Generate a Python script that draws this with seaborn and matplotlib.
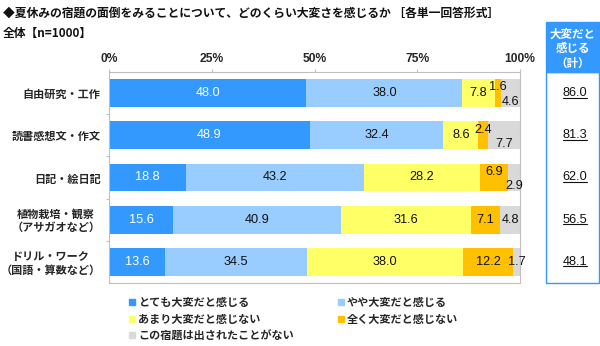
import numpy as np
import pandas as pd
import matplotlib
matplotlib.use("Agg")
import matplotlib.pyplot as plt
import matplotlib.transforms as mtransforms
from matplotlib.lines import Line2D
from matplotlib.patches import Rectangle
from matplotlib.font_manager import FontProperties
import seaborn as sns

# ---- data -------------------------------------------------------------
categories = [
    "自由研究・工作",
    "読書感想文・作文",
    "日記・絵日記",
    "植物栽培・観察\n（アサガオなど）",
    "ドリル・ワーク\n（国語・算数など）",
]
series_names = [
    "とても大変だと感じる",
    "やや大変だと感じる",
    "あまり大変だと感じない",
    "全く大変だと感じない",
    "この宿題は出されたことがない",
]
very_hard = [48.0, 48.9, 18.8, 15.6, 13.6]
somewhat_hard = [38.0, 32.4, 43.2, 40.9, 34.5]
not_very_hard = [7.8, 8.6, 28.2, 31.6, 38.0]
not_hard_at_all = [1.6, 2.4, 6.9, 7.1, 12.2]
never_assigned = [4.6, 7.7, 2.9, 4.8, 1.7]

x_ticks = [0, 25, 50, 75, 100]
x_tick_labels = ["0%", "25%", "50%", "75%", "100%"]

title = "◆夏休みの宿題の面倒をみることについて、どのくらい大変さを感じるか ［各単一回答形式］"
subtitle = "全体【n=1000】"
total_header = "大変だと\n感じる\n（計）"

# ---- styling ----------------------------------------------------------
colors = ["#3399FF", "#99CCFF", "#FFFF66", "#FFC000", "#D9D9D9"]
text_colors = ["white", "#111111", "#111111", "#111111", "#111111"]
axis_grey = "#BFBFBF"
jp = ["Noto Sans CJK JP", "DejaVu Sans"]
num_font = ["Liberation Sans", "Noto Sans CJK JP"]

# small segments whose labels are nudged up / down (in points)
label_nudge = {(0, 3): 4.5, (0, 4): -6.5,
               (1, 3): 4.0, (1, 4): -6.0,
               (2, 3): 4.0, (2, 4): -6.0}

sns.set_theme(style="white")
plt.rcParams["font.family"] = jp

series = [very_hard, somewhat_hard, not_very_hard, not_hard_at_all, never_assigned]
values = np.array(series).T              # rows = categories, cols = series
cumulative = np.cumsum(values, axis=1)

fig = plt.figure(figsize=(6.0, 3.46), dpi=100)
ax = fig.add_axes([109 / 600, 1 - 283 / 346, 411 / 600, 211 / 346])

# stacked bars: draw cumulative totals from the outermost segment inwards
for j in reversed(range(len(series))):
    df = pd.DataFrame({"category": categories, "value": cumulative[:, j]})
    sns.barplot(data=df, x="value", y="category", orient="h", color=colors[j],
                saturation=1, width=0.66, linewidth=0, ax=ax)

ax.set_xlim(0, 100)
ax.set_ylim(len(categories) - 0.5, -0.5)
ax.set_xlabel("")
ax.set_ylabel("")

# segment value labels
for i in range(len(categories)):
    for j in range(len(series)):
        v = values[i, j]
        xc = cumulative[i, j] - v / 2
        dy = label_nudge.get((i, j), 0.0)
        ax.annotate(f"{v:.1f}", xy=(xc, i), xytext=(0, dy), textcoords="offset points",
                    ha="center", va="center", fontsize=9.2, family=num_font,
                    color=text_colors[j])

# x axis on top
ax.set_xticks(x_ticks)
ax.set_xticklabels(x_tick_labels, family=num_font, fontweight="bold", fontsize=8.7)
ax.tick_params(axis="x", top=True, bottom=False, labeltop=True, labelbottom=False,
               length=2.5, width=0.8, color=axis_grey, pad=2.5, direction="out")

# y axis: category labels, small ticks between rows
ax.set_yticks(range(len(categories)))
ax.set_yticklabels(categories)
for lbl in ax.get_yticklabels():
    lbl.set_fontproperties(FontProperties(family=jp, weight="bold", size=8.0))
    lbl.set_multialignment("center")
    lbl.set_linespacing(1.0)
ax.tick_params(axis="y", which="major", length=0, pad=6)
ax.set_yticks(np.arange(0.5, len(categories) - 1, 1.0), minor=True)
ax.tick_params(axis="y", which="minor", left=True, length=2.5, width=0.8,
               color=axis_grey, direction="out")

for side in ["left", "right", "top", "bottom"]:
    ax.spines[side].set_visible(True)
    ax.spines[side].set_color(axis_grey)
    ax.spines[side].set_linewidth(0.8)

# titles
title_font = FontProperties(family=jp, weight="bold", size=8.5)
fig.text(3 / 600, 1 - 13 / 346, title, fontproperties=title_font, ha="left", va="center",
         color="#111111")
fig.text(3 / 600, 1 - 33 / 346, subtitle, fontproperties=title_font, ha="left",
         va="center", color="#111111")

# totals box on the right
box_x0, box_x1 = 546 / 600, 599 / 600
fig.add_artist(Rectangle((box_x0, 1 - 283 / 346), box_x1 - box_x0, 211 / 346,
                         transform=fig.transFigure, facecolor="white",
                         edgecolor="#3399FF", linewidth=1.0))
fig.add_artist(Rectangle((box_x0, 1 - 72 / 346), box_x1 - box_x0, 50 / 346,
                         transform=fig.transFigure, facecolor="#3399FF",
                         edgecolor="#3399FF", linewidth=1.0))
fig.text((box_x0 + box_x1) / 2, 1 - 48.5 / 346, total_header, ha="center", va="center",
         color="white", fontproperties=FontProperties(family=jp, weight="bold", size=8.3),
         linespacing=1.15)

totals = [round(a + b, 1) for a, b in zip(very_hard, somewhat_hard)]
blend = mtransforms.blended_transform_factory(fig.transFigure, ax.transData)
total_texts = []
for i, t in enumerate(totals):
    total_texts.append(fig.text(575 / 600, i, f"{t:.1f}", transform=blend, ha="center",
                                va="center", fontsize=9.2, family=num_font,
                                color="#111111"))

# legend
handles = [Line2D([], [], marker="s", linestyle="none", color=c, markersize=4.5)
           for c in colors]
order = [0, 2, 4, 1, 3]
fig.legend([handles[k] for k in order], [series_names[k] for k in order],
           loc="upper left", bbox_to_anchor=(129 / 600, 1 - 296 / 346), ncol=2,
           frameon=False, borderpad=0, borderaxespad=0, handlelength=0.6,
           handletextpad=0.25, columnspacing=3.9, labelspacing=0.33,
           prop=FontProperties(family=jp, weight="bold", size=8))

# underline the totals
fig.canvas.draw()
renderer = fig.canvas.get_renderer()
for txt in total_texts:
    bb = txt.get_window_extent(renderer)
    y = bb.y0 + 1.5
    fig.add_artist(Line2D([bb.x0, bb.x1], [y, y], transform=mtransforms.IdentityTransform(),
                          color="#111111", linewidth=0.8))

fig.savefig("out.png", dpi=100)
